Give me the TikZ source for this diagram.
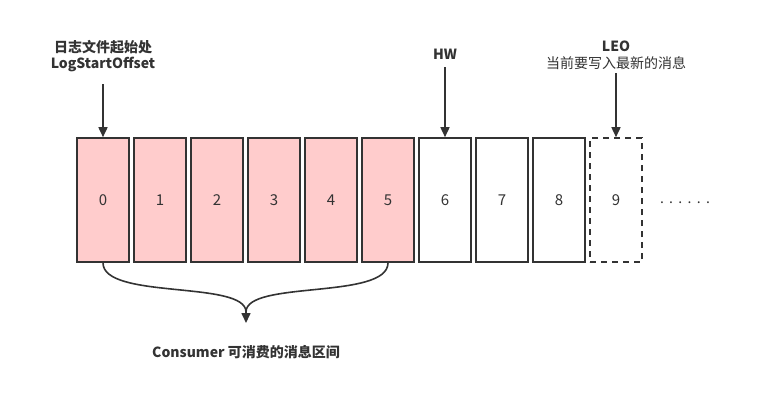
\documentclass[tikz,border=0pt]{standalone}
\usepackage{fontspec}
\setmainfont{Noto Sans CJK SC}
\usetikzlibrary{arrows.meta}
\definecolor{pinkfill}{HTML}{FFCCCC}
\definecolor{strokec}{HTML}{333333}
\tikzset{
  cell/.style={draw=strokec, line width=1.6pt, minimum width=52pt, minimum height=124pt, inner sep=0pt, text=strokec, font=\fontsize{15}{16}\selectfont},
  pinkcell/.style={cell, fill=pinkfill},
  whitecell/.style={cell, fill=white},
  dashcell/.style={cell, fill=white, dash pattern=on 6pt off 5pt},
  lbl/.style={text=strokec, font=\fontsize{14}{16.5}\selectfont\bfseries, align=center, inner sep=0pt},
  lblr/.style={text=strokec, font=\fontsize{14}{16.5}\selectfont, align=center, inner sep=0pt},
  ptr/.style={draw=strokec, line width=1.6pt, -{Triangle[length=10pt,width=9pt]}},
  bracec/.style={draw=strokec, line width=1.6pt},
}
\begin{document}
\begin{tikzpicture}[x=1pt,y=-1pt]
\fill[white] (0,0) rectangle (768,402);
\useasboundingbox (0,0) rectangle (768,402);
\foreach \i in {0,...,5}{
  \node[pinkcell] (b\i) at (103+57*\i,200) {\i};
}
\foreach \i in {6,7,8}{
  \node[whitecell] (b\i) at (103+57*\i,200) {\i};
}
\node[dashcell] (b9) at (616,200) {9};
\node[text=strokec, font=\fontsize{14}{14}\selectfont\addfontfeatures{LetterSpace=38}, inner sep=0pt] (dots) at (685,203) {......};

\node[lbl] (lso) at (103,56) {日志文件起始处\\LogStartOffset};
\node[lbl] (hw) at (445,54) {HW};
\node[lbl] (leo1) at (616,46) {LEO};
\node[lblr] (leo2) at (616,63) {当前要写入最新的消息};

\coordinate (a0) at (103,84);
\coordinate (a6) at (445,67);
\coordinate (a9) at (616,73);
\draw[ptr] (a0) -- (b0.north);
\draw[ptr] (a6) -- (b6.north);
\draw[ptr] (a9) -- (b9.north);

\coordinate (tip) at (246,323);
\draw[bracec] (b0.south) .. controls (103,300) and (246,280) .. (246,312);
\draw[bracec] (b5.south) .. controls (388,300) and (246,280) .. (246,312);
\draw[ptr] (246,310) -- (tip);

\node[lbl] (cons) at (246,352) {Consumer 可消费的消息区间};
\end{tikzpicture}
\end{document}
